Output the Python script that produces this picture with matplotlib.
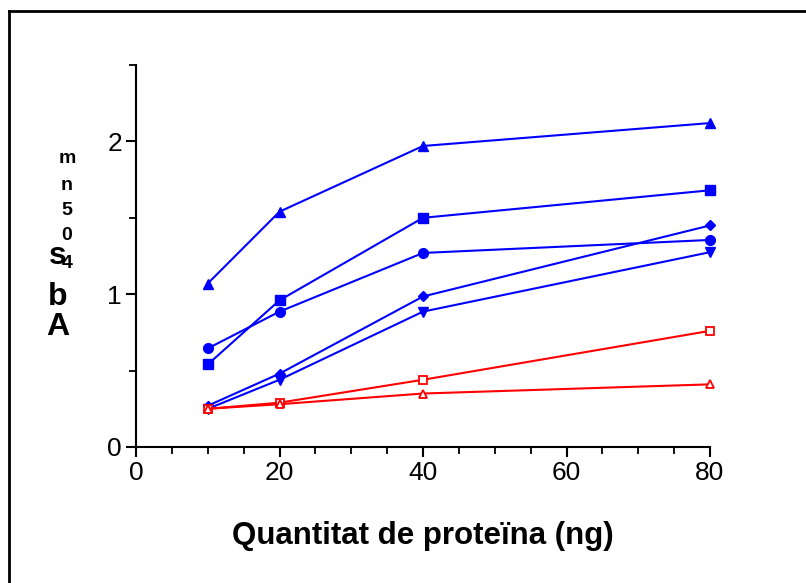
import matplotlib.pyplot as plt
from matplotlib.lines import Line2D
from matplotlib.ticker import MultipleLocator

plt.rcParams['font.family'] = ['Liberation Sans', 'DejaVu Sans']

# ==========================
# Data
# ==========================
protein_ng = [10, 20, 40, 80]

blue_triangle_up = [1.07, 1.54, 1.97, 2.12]
blue_square = [0.54, 0.96, 1.50, 1.68]
blue_circle = [0.645, 0.886, 1.27, 1.355]
blue_diamond = [0.27, 0.48, 0.985, 1.45]
blue_triangle_down = [0.25, 0.44, 0.886, 1.275]
red_open_square = [0.25, 0.29, 0.44, 0.76]
red_open_triangle = [0.25, 0.28, 0.35, 0.41]

blue = '#0000FF'
red = '#FF0000'

fig = plt.figure(figsize=(8.06, 5.83), dpi=100)
ax = fig.add_axes([136 / 806, 1 - 447 / 583, 574 / 806, 382 / 583])

# blue series, filled markers
ax.plot(protein_ng, blue_triangle_up, color=blue, marker='^', markersize=6.5, lw=1.5, clip_on=False)
ax.plot(protein_ng, blue_square, color=blue, marker='s', markersize=6.5, lw=1.5, clip_on=False)
ax.plot(protein_ng, blue_circle, color=blue, marker='o', markersize=7, lw=1.5, clip_on=False)
ax.plot(protein_ng, blue_diamond, color=blue, marker='D', markersize=5, lw=1.5, clip_on=False)
ax.plot(protein_ng, blue_triangle_down, color=blue, marker='v', markersize=6.5, lw=1.5, clip_on=False)

# red series, open markers
ax.plot(protein_ng, red_open_square, color=red, marker='s', markersize=5.5,
        markerfacecolor='white', markeredgewidth=1.3, lw=1.5, clip_on=False)
ax.plot(protein_ng, red_open_triangle, color=red, marker='^', markersize=6,
        markerfacecolor='white', markeredgewidth=1.3, lw=1.5, clip_on=False)

# axes
ax.set_xlim(0, 80)
ax.set_ylim(0, 2.5)
ax.xaxis.set_major_locator(MultipleLocator(20))
ax.xaxis.set_minor_locator(MultipleLocator(5))
ax.yaxis.set_major_locator(MultipleLocator(1))
ax.yaxis.set_minor_locator(MultipleLocator(0.5))
ax.spines['top'].set_visible(False)
ax.spines['right'].set_visible(False)
ax.spines['left'].set_linewidth(1.5)
ax.spines['bottom'].set_linewidth(1.5)
ax.tick_params(which='major', direction='out', length=7, width=1.5, labelsize=19, pad=3)
ax.tick_params(which='minor', direction='out', length=5, width=1.3)

ax.set_xlabel('Quantitat de proteïna (ng)', fontsize=22.5, fontweight='bold', labelpad=26)

# stacked y label: "Abs" with subscript "405nm", letters upright
abs_letters = ['A', 'b', 's']
abs_y = [327, 297, 256]
for ch, py in zip(abs_letters, abs_y):
    fig.text(58 / 806, 1 - py / 583, ch, fontsize=23, fontweight='bold', ha='center', va='center')
sub_letters = ['4', '0', '5', 'n', 'm']
sub_y = [263, 235, 210, 185, 158]
for ch, py in zip(sub_letters, sub_y):
    fig.text(67 / 806, 1 - py / 583, ch, fontsize=14, fontweight='bold', ha='center', va='center')

# outer frame (top and left edges visible)
fig.add_artist(Line2D([9 / 806, 9 / 806], [0, 1 - 11 / 583], transform=fig.transFigure, color='black', lw=2))
fig.add_artist(Line2D([9 / 806, 1], [1 - 11 / 583, 1 - 11 / 583], transform=fig.transFigure, color='black', lw=2))

fig.savefig('out.png', dpi=100)
